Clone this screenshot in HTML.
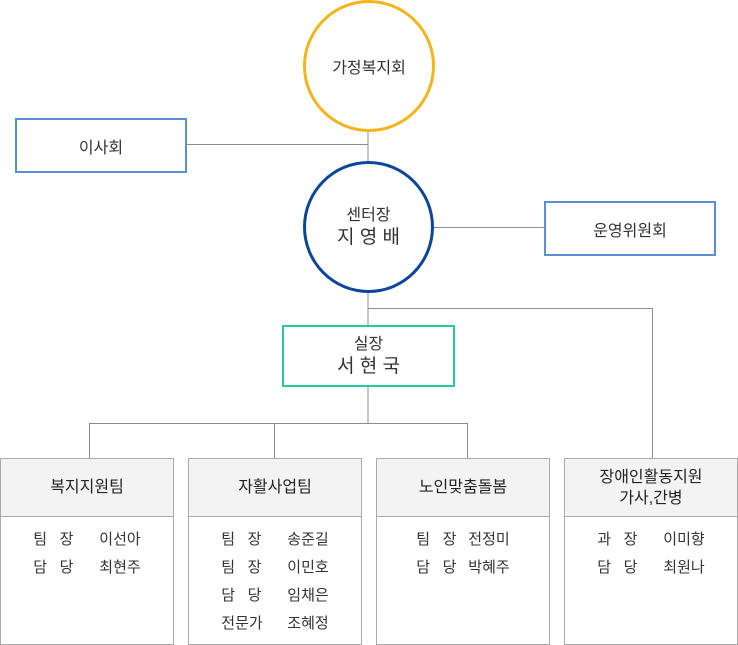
<!DOCTYPE html>
<html><head><meta charset="utf-8"><style>
body{margin:0;width:738px;height:645px;background:#fff;position:relative;overflow:hidden;font-family:"Liberation Sans","Noto Sans CJK KR",sans-serif;color:#333}
.a{position:absolute;box-sizing:border-box;display:flex;align-items:center;justify-content:center;text-align:center}
.c{border-radius:50%;background:#fff}
.team{position:absolute;box-sizing:border-box;border:1px solid #aaa;background:#fff;top:458px;height:187px;width:174px}
.team .h{height:57px;background:#f3f3f3;border-bottom:1px solid #aaa;display:flex;align-items:center;justify-content:center;font-size:16px;line-height:21px;text-align:center;color:#222}
.team .b{padding-top:9px;font-size:15px;line-height:28px;color:#333}
.team .b div{display:flex;justify-content:center}
.team .b span.l{display:inline-block;width:66px}
</style></head><body>
<svg width="738" height="645" style="position:absolute;left:0;top:0">
<g stroke="#8c8c8c" stroke-width="1" fill="none">
<line x1="368" y1="130" x2="368" y2="163"/>
<line x1="187" y1="144.5" x2="368" y2="144.5"/>
<line x1="433" y1="227.5" x2="544" y2="227.5"/>
<line x1="368" y1="292" x2="368" y2="326"/>
<line x1="368" y1="308.5" x2="652.5" y2="308.5"/>
<line x1="652.5" y1="308" x2="652.5" y2="458"/>
<line x1="368" y1="386" x2="368" y2="423"/>
<line x1="89" y1="423.5" x2="467.5" y2="423.5"/>
<line x1="89.5" y1="423" x2="89.5" y2="458"/>
<line x1="274.5" y1="423" x2="274.5" y2="458"/>
<line x1="467.5" y1="423" x2="467.5" y2="458"/>
</g></svg>
<div class="a c" style="left:303px;top:0;width:132px;height:132px;border:3px solid #f5b41c;font-size:16px">가정복지회</div>
<div class="a c" style="left:303px;top:161px;width:131px;height:132px;border:3px solid #0c469c;font-size:16px;line-height:22px"><div>센터장<br><span style="font-size:19px">지 영 배</span></div></div>
<div class="a" style="left:15px;top:118px;width:172px;height:55px;border:2px solid #5b8fd4;font-size:16px">이사회</div>
<div class="a" style="left:544px;top:201px;width:172px;height:55px;border:2px solid #5b8fd4;font-size:16px">운영위원회</div>
<div class="a" style="left:282px;top:325px;width:173px;height:62px;border:2px solid #27c8a8;font-size:16px;line-height:22px"><div>실장<br><span style="font-size:19px">서 현 국</span></div></div>
<div class="team" style="left:0"><div class="h">복지지원팀</div><div class="b">
<div><span class="l">팀&nbsp;&nbsp;&nbsp;장</span><span>이선아</span></div>
<div><span class="l">담&nbsp;&nbsp;&nbsp;당</span><span>최현주</span></div></div></div>
<div class="team" style="left:188px"><div class="h">자활사업팀</div><div class="b">
<div><span class="l">팀&nbsp;&nbsp;&nbsp;장</span><span>송준길</span></div>
<div><span class="l">팀&nbsp;&nbsp;&nbsp;장</span><span>이민호</span></div>
<div><span class="l">담&nbsp;&nbsp;&nbsp;당</span><span>임채은</span></div>
<div><span class="l">전문가</span><span>조혜정</span></div></div></div>
<div class="team" style="left:376px"><div class="h">노인맞춤돌봄</div><div class="b">
<div><span class="l" style="width:52px">팀&nbsp;&nbsp;&nbsp;장</span><span>전정미</span></div>
<div><span class="l" style="width:52px">담&nbsp;&nbsp;&nbsp;당</span><span>박혜주</span></div></div></div>
<div class="team" style="left:564px;width:174px"><div class="h">장애인활동지원<br>가사,간병</div><div class="b">
<div><span class="l">과&nbsp;&nbsp;&nbsp;장</span><span>이미향</span></div>
<div><span class="l">담&nbsp;&nbsp;&nbsp;당</span><span>최원나</span></div></div></div>
</body></html>
